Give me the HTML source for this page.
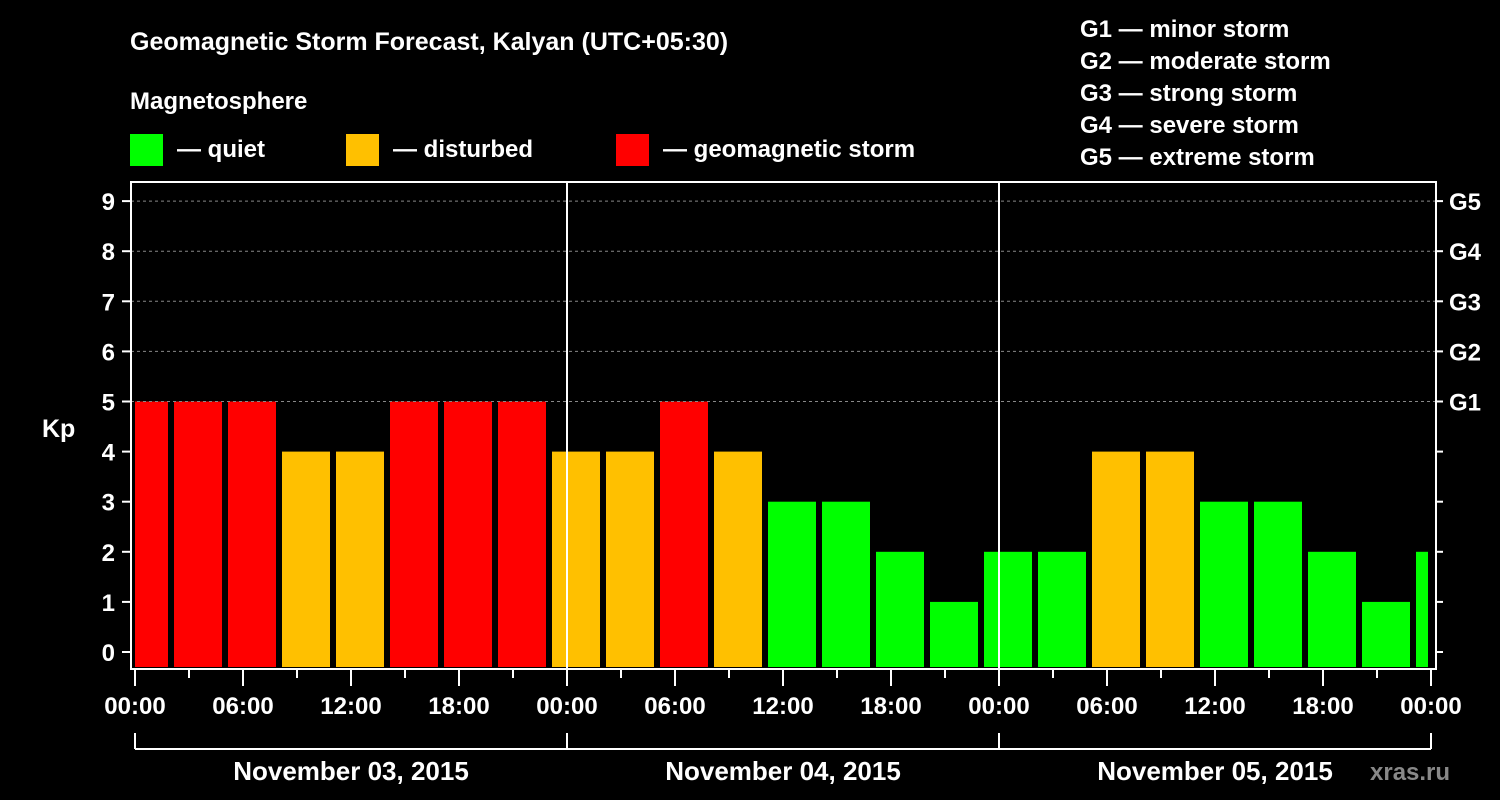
<!DOCTYPE html>
<html><head><meta charset="utf-8"><style>
body{margin:0;background:#000;}
svg{display:block;font-family:"Liberation Sans",sans-serif;font-weight:bold;}
</style></head><body>
<svg id="c" width="1500" height="800" viewBox="0 0 1500 800">
<rect width="1500" height="800" fill="#000"/>
<text x="130" y="50" fill="#fff" font-size="25">Geomagnetic Storm Forecast, Kalyan (UTC+05:30)</text>
<text x="130" y="109" fill="#fff" font-size="24">Magnetosphere</text>
<g>
<rect x="130" y="134" width="33" height="32" fill="#00ff00"/>
<text x="177" y="157" fill="#fff" font-size="24">— quiet</text>
<rect x="346" y="134" width="33" height="32" fill="#ffc000"/>
<text x="393" y="157" fill="#fff" font-size="24">— disturbed</text>
<rect x="616" y="134" width="33" height="32" fill="#ff0000"/>
<text x="663" y="157" fill="#fff" font-size="24">— geomagnetic storm</text>
</g>
<g fill="#fff" font-size="24">
<text x="1080" y="37">G1 — minor storm</text>
<text x="1080" y="69">G2 — moderate storm</text>
<text x="1080" y="101">G3 — strong storm</text>
<text x="1080" y="133">G4 — severe storm</text>
<text x="1080" y="165">G5 — extreme storm</text>
</g>
<text x="42" y="437" fill="#fff" font-size="25">Kp</text>
<g id="plot"></g>
<text x="1370" y="780" fill="#888" font-size="24">xras.ru</text>
</svg>
<script>
const kpValues=[5,5,5,4,4,5,5,5,4,4,5,4,3,3,2,1,2,2,4,4,3,3,2,1,2];
const yTicks=[0,1,2,3,4,5,6,7,8,9];
const gLabels=["G1","G2","G3","G4","G5"];
const xTickLabels=["00:00","06:00","12:00","18:00","00:00","06:00","12:00","18:00","00:00","06:00","12:00","18:00","00:00"];
const dateLabels=["November 03, 2015","November 04, 2015","November 05, 2015"];
const NS="http://www.w3.org/2000/svg";
const p=document.getElementById('plot');
const X0=135,PX_H=18,L=131,R=1436,T=182,B=669;
const x=h=>X0+h*PX_H;
const y=v=>652-v*50.1;
function mk(t,a){const e=document.createElementNS(NS,t);for(const k in a)e.setAttribute(k,a[k]);p.appendChild(e);return e;}
// bars: first bar starts at local 00:00 (partial), others from 2:00 in 3h steps
kpValues.forEach((v,i)=>{
 let s=i===0?x(0):x(2+3*(i-1))+3;
 let e=i===0?x(2)-3:Math.min(x(2+3*i)-3,R-8);
 const c=v>=5?"#ff0000":v>=4?"#ffc000":"#00ff00";
 const r=mk('rect',{x:s,y:y(v),width:e-s,height:B-2-y(v),fill:c});
 
 
});
// grid
[5,6,7,8,9].forEach(v=>{const l=mk('line',{x1:L,x2:R,y1:y(v),y2:y(v),stroke:'#888','stroke-dasharray':'3,3'});
 
 });
// day separators
[1,2].forEach(d=>{const l=mk('line',{x1:x(24*d),x2:x(24*d),y1:T,y2:B,stroke:'#fff','stroke-width':2});
 
 });
// frame
const f=mk('rect',{x:L,y:T,width:R-L,height:B-T,fill:'none',stroke:'#fff','stroke-width':2});


yTicks.forEach(v=>{
 mk('line',{x1:122,x2:L,y1:y(v),y2:y(v),stroke:'#fff','stroke-width':2});
 mk('line',{x1:R,x2:1443,y1:y(v),y2:y(v),stroke:'#fff','stroke-width':2});
 const t=mk('text',{x:115,y:y(v)+9,fill:'#fff','font-size':24,'text-anchor':'end'});t.textContent=v;
 
 
});
gLabels.forEach((g,i)=>{const t=mk('text',{x:1449,y:y(5+i)+9,fill:'#fff','font-size':24});t.textContent=g;
 
 });
for(let h=0;h<=72;h+=3){const major=h%6===0;mk('line',{x1:x(h),x2:x(h),y1:B,y2:major?686:678,stroke:'#fff','stroke-width':2});}
xTickLabels.forEach((s,i)=>{const t=mk('text',{x:x(6*i),y:714,fill:'#fff','font-size':24,'text-anchor':'middle'});t.textContent=s;
 
 });
mk('line',{x1:x(0),x2:x(72),y1:749,y2:749,stroke:'#fff','stroke-width':2});
[0,24,48,72].forEach(h=>mk('line',{x1:x(h),x2:x(h),y1:733,y2:749,stroke:'#fff','stroke-width':2}));
dateLabels.forEach((s,i)=>{const t=mk('text',{x:x(24*i+12),y:780,fill:'#fff','font-size':26,'text-anchor':'middle'});t.textContent=s;
 
 });
</script>
</body></html>
